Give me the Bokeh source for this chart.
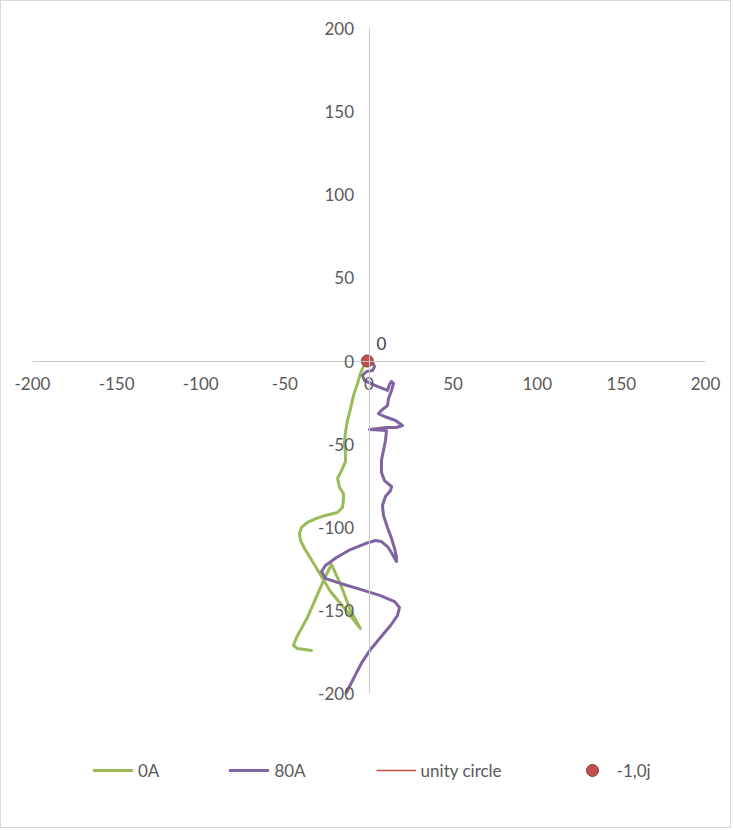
from bokeh.plotting import figure
from bokeh.models import Range1d, FixedTicker, Legend, LegendItem
from bokeh.core.properties import value
from bokeh.embed import file_html
from bokeh.resources import INLINE
import math

# ---- data ----
ticks = [-200, -150, -100, -50, 0, 50, 100, 150, 200]

series_names = ["0A", "80A", "unity circle", "-1,0j"]

g_re = [-3.3, -5.1, -6.8, -9.2, -11.0, -12.8, -14.0, -14.6, -14.0, -14.0, -16.3, -18.7,
        -17.5, -15.2, -15.2, -15.8, -18.7, -25.9, -31.2, -36.6, -40.1, -41.3, -40.7, -38.3,
        -31.8, -22.9, -14.0, -5.1, -11.0, -16.9, -22.3, -25.9, -31.2, -36.6, -43.1, -44.9,
        -42.5, -34.2]
g_im = [-3.3, -7.5, -13.5, -20.8, -28.6, -35.8, -43.0, -49.6, -55.0, -60.5, -65.9, -70.7,
        -76.1, -79.7, -83.9, -88.1, -91.1, -92.9, -94.7, -97.1, -100.1, -103.8, -108.0, -112.8,
        -123.6, -138.6, -149.5, -160.9, -150.1, -134.4, -122.4, -129.6, -141.7, -154.3, -166.3, -171.1,
        -172.9, -174.1]

p_re = [-0.3, 2.1, 3.3, 2.1, -1.5, -3.9, -2.7, 2.1, 8.0, 11.0, 12.2, 13.4, 14.6, 13.4, 11.6,
        11.0, 8.0, 5.6, 9.2, 15.8, 19.9, 16.3, 10.4, 0.3, 10.4, 9.8, 8.6, 7.4, 7.4, 9.2, 13.4,
        12.8, 9.8, 8.0, 8.6, 11.0, 13.4, 15.2, 16.3, 16.3, 14.0, 11.0, 7.4, 3.9, -2.1, -11.0,
        -19.3, -25.9, -28.2, -25.9, -16.9, -5.1, 6.8, 15.2, 18.1, 16.9, 12.8, 6.8, 0.9, -3.9,
        -7.4, -11.0, -13.4]
p_im = [0.3, -0.9, -3.3, -5.7, -6.3, -8.7, -11.7, -14.1, -16.5, -17.7, -14.1, -12.3, -13.5,
        -17.7, -22.6, -26.8, -29.2, -31.6, -33.4, -35.8, -38.8, -40.0, -40.0, -41.2, -41.8,
        -47.8, -53.8, -59.8, -67.1, -71.9, -75.5, -77.9, -81.5, -86.9, -92.9, -100.1, -106.8,
        -112.8, -117.6, -120.6, -116.4, -111.6, -108.6, -108.0, -109.8, -113.4, -118.2, -123.0,
        -126.6, -130.8, -133.8, -137.4, -141.1, -144.7, -148.3, -153.1, -159.1, -166.3, -173.5,
        -180.8, -187.4, -194.6, -199.4]

unity_radius = [1.0]
crit_re = [-1.0]
crit_im = [0.0]
crit_label = ["0"]

# ---- styles ----
GREEN = "#9BBB59"
PURPLE = "#8064A2"
RED = "#C0504D"
TXT = "#595959"
AXIS = "#C8C8C8"
FONT = "Lato"
FS = "17px"

W, H = 731, 828
# plot area of the -200..200 square (canvas pixels)
AX_L, AX_R, AX_T, AX_B = 31, 704, 27, 692
sx = (AX_R - AX_L) / 400.0
sy = (AX_B - AX_T) / 400.0
x_lo = -200 - AX_L / sx
x_hi = 200 + (W - AX_R) / sx
y_hi = 200 + AX_T / sy
y_lo = -200 - (H - AX_B) / sy

p = figure(width=W, height=H, output_backend="svg", toolbar_location=None,
           x_range=Range1d(x_lo, x_hi), y_range=Range1d(y_lo, y_hi),
           min_border_left=0, min_border_right=0, min_border_top=0, min_border_bottom=0)
p.outline_line_color = None
p.grid.visible = False
p.background_fill_color = "white"
p.border_fill_color = "white"
p.styles = {"border": "1px solid #D9D9D9"}

for ax in (p.xaxis[0], p.yaxis[0]):
    ax.fixed_location = 0
    ax.bounds = (-200, 200)
    ax.ticker = FixedTicker(ticks=ticks)
    ax.minor_tick_line_color = None
    ax.major_tick_in = 0
    ax.major_tick_out = 0
    ax.axis_line_color = AXIS
    ax.axis_line_width = 1
    ax.major_label_text_font = FONT
    ax.major_label_text_font_size = FS
    ax.major_label_text_color = TXT
    ax.major_label_overrides = {t: str(t) for t in ticks}
p.xaxis[0].major_label_standoff = 16
p.yaxis[0].major_label_standoff = 15

r_g = p.line(g_re, g_im, line_color=GREEN, line_width=3, line_join="round", line_cap="round")
r_p = p.line(p_re, p_im, line_color=PURPLE, line_width=3, line_join="round", line_cap="round")
r_u = p.arc(x=[0.0], y=[0.0], radius=unity_radius, start_angle=0, end_angle=2 * math.pi,
            line_color=RED, line_width=1.5)
r_c = p.scatter(crit_re, crit_im, size=12, fill_color=RED, line_color="#8C3836", line_width=1)
p.text(crit_re, crit_im, text=crit_label, x_offset=14, y_offset=-18,
       text_align="center", text_baseline="middle",
       text_font=value(FONT), text_font_size=FS, text_color="#404040")

legend = Legend(items=[LegendItem(label=series_names[0], renderers=[r_g]),
                       LegendItem(label=series_names[1], renderers=[r_p]),
                       LegendItem(label=series_names[2], renderers=[r_u]),
                       LegendItem(label=series_names[3], renderers=[r_c])],
                orientation="horizontal", location=(92, 44),
                glyph_width=40, glyph_height=30, label_standoff=5, spacing=70,
                padding=0, margin=0, background_fill_alpha=0, border_line_color=None,
                label_text_font=FONT, label_text_font_size=FS, label_text_color=TXT)
p.add_layout(legend, "center")

open("out.html", "w").write(file_html(p, INLINE))
